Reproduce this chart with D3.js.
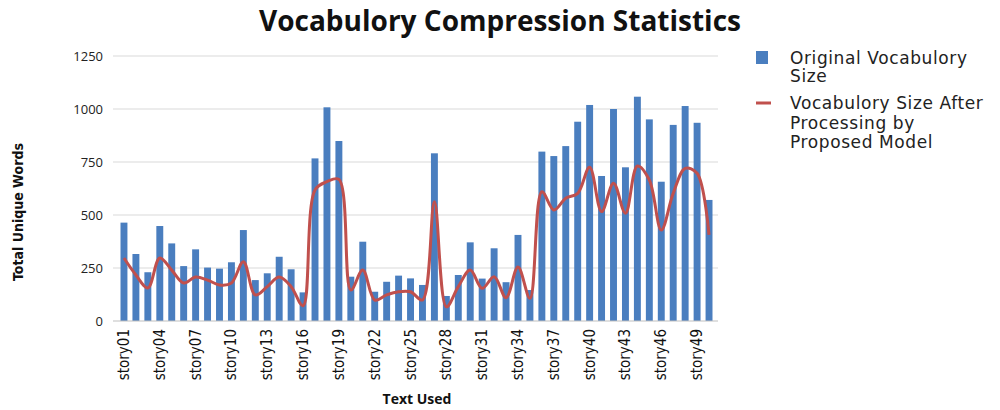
<!DOCTYPE html>
<html>
<head>
<meta charset="utf-8">
<script src="https://cdn.jsdelivr.net/npm/d3@7"></script>
<style>
  body { margin: 0; background: #fff; }
  svg { display: block; }
</style>
</head>
<body>
<div id="chart"></div>
<script>
// Vocabulary compression: original size (bars) vs size after processing (line)
const stories = d3.range(1, 51).map(i => "story" + String(i).padStart(2, "0"));
const originalSize = [464, 316, 230, 448, 366, 259, 338, 252, 247, 277,
                      429, 193, 225, 303, 244, 135, 767, 1008, 849, 209,
                      374, 138, 185, 214, 201, 170, 791, 118, 217, 371,
                      200, 343, 183, 406, 146, 799, 778, 825, 940, 1019,
                      684, 1000, 725, 1058, 951, 657, 925, 1014, 935, 571];
const processedSize = [297, 217, 156, 297, 240, 179, 207, 193, 170, 179,
                       280, 123, 162, 207, 162, 72, 618, 657, 668, 146,
                       240, 99, 123, 138, 138, 99, 563, 67, 162, 240,
                       154, 209, 110, 255, 107, 610, 524, 579, 602, 725,
                       516, 650, 508, 731, 665, 429, 602, 720, 697, 406];
const yTicks = [0, 250, 500, 750, 1000, 1250];

(function() {
    const width = 1000, height = 410;
    const plot = {left: 113, right: 718, top: 56, bottom: 321};

    const svg = d3.select("#chart")
        .append("svg")
        .attr("width", width)
        .attr("height", height);

    const x = d3.scaleBand()
        .domain(stories)
        .range([118, 715])
        .paddingInner(0.42)
        .paddingOuter(0.21);

    const y = d3.scaleLinear()
        .domain([0, 1250])
        .range([plot.bottom, plot.top]);

    // Title
    svg.append("text")
        .attr("x", 500)
        .attr("y", 31)
        .attr("text-anchor", "middle")
        .style("font-family", "'Open Sans', sans-serif")
        .style("font-weight", "bold")
        .style("font-size", "28px")
        .attr("fill", "#111")
        .text("Vocabulory Compression Statistics");

    // Gridlines
    svg.append("g")
        .selectAll("line")
        .data(yTicks.filter(d => d > 0))
        .enter()
        .append("line")
        .attr("x1", plot.left)
        .attr("x2", plot.right)
        .attr("y1", d => y(d))
        .attr("y2", d => y(d))
        .attr("stroke", "#d9d9d9")
        .attr("stroke-width", 1.2);

    // Y axis labels
    const yAxis = svg.append("g")
        .attr("transform", `translate(${plot.left},0)`)
        .call(d3.axisLeft(y).tickValues(yTicks).tickFormat(d3.format("d")).tickSize(0).tickPadding(10));
    yAxis.select(".domain").remove();
    yAxis.selectAll("text")
        .style("font-family", "'Open Sans', sans-serif")
        .style("font-size", "13px")
        .attr("fill", "#222");

    // Bars
    svg.append("g")
        .selectAll("rect")
        .data(stories)
        .enter()
        .append("rect")
        .attr("x", d => x(d))
        .attr("width", x.bandwidth())
        .attr("y", (d, i) => y(originalSize[i]))
        .attr("height", (d, i) => y(0) - y(originalSize[i]))
        .attr("fill", "#4a7ebf");

    // Baseline
    svg.append("line")
        .attr("x1", plot.left)
        .attr("x2", plot.right)
        .attr("y1", y(0))
        .attr("y2", y(0))
        .attr("stroke", "#bfbfbf")
        .attr("stroke-width", 1);

    // Line
    const line = d3.line()
        .x((d, i) => x(stories[i]) + x.bandwidth() / 2)
        .y(d => y(d))
        .curve(d3.curveCatmullRom.alpha(0.5));

    svg.append("path")
        .datum(processedSize)
        .attr("fill", "none")
        .attr("stroke", "#c0504d")
        .attr("stroke-width", 3)
        .attr("stroke-linejoin", "round")
        .attr("d", line);

    // X tick labels (every third story)
    svg.append("g")
        .selectAll("text")
        .data(stories.filter((d, i) => i % 3 === 0))
        .enter()
        .append("text")
        .attr("transform", d => `translate(${x(d) + x.bandwidth() / 2 + 5},${plot.bottom + 8}) rotate(-90)`)
        .attr("text-anchor", "end")
        .style("font-family", "'Liberation Sans Narrow', 'DejaVu Sans Condensed', sans-serif")
        .style("font-size", "15px")
        .attr("fill", "#111")
        .text(d => d);

    // Axis titles
    svg.append("text")
        .attr("x", 417)
        .attr("y", 404)
        .attr("text-anchor", "middle")
        .style("font-family", "'Open Sans', sans-serif")
        .style("font-weight", "bold")
        .style("font-size", "14px")
        .attr("fill", "#111")
        .text("Text Used");

    svg.append("text")
        .attr("transform", "translate(23,212) rotate(-90)")
        .attr("text-anchor", "middle")
        .style("font-family", "'Liberation Sans Narrow', 'DejaVu Sans Condensed', sans-serif")
        .style("font-weight", "bold")
        .style("font-size", "14px")
        .attr("fill", "#111")
        .text("Total Unique Words");

    // Legend
    const legend = svg.append("g")
        .style("font-family", "'DejaVu Sans', Verdana, sans-serif")
        .style("font-size", "17px")
        .style("letter-spacing", "0.6px")
        .attr("fill", "#222");

    legend.append("rect")
        .attr("x", 756).attr("y", 51)
        .attr("width", 12).attr("height", 13)
        .attr("fill", "#4a7ebf");
    legend.append("text").attr("x", 790).attr("y", 64).text("Original Vocabulory");
    legend.append("text").attr("x", 790).attr("y", 82).text("Size");

    legend.append("line")
        .attr("x1", 756).attr("x2", 771)
        .attr("y1", 103).attr("y2", 103)
        .attr("stroke", "#c0504d")
        .attr("stroke-width", 3);
    legend.append("text").attr("x", 790).attr("y", 109).text("Vocabulory Size After");
    legend.append("text").attr("x", 790).attr("y", 129).text("Processing by");
    legend.append("text").attr("x", 790).attr("y", 148).text("Proposed Model");
})();
</script>
</body>
</html>
